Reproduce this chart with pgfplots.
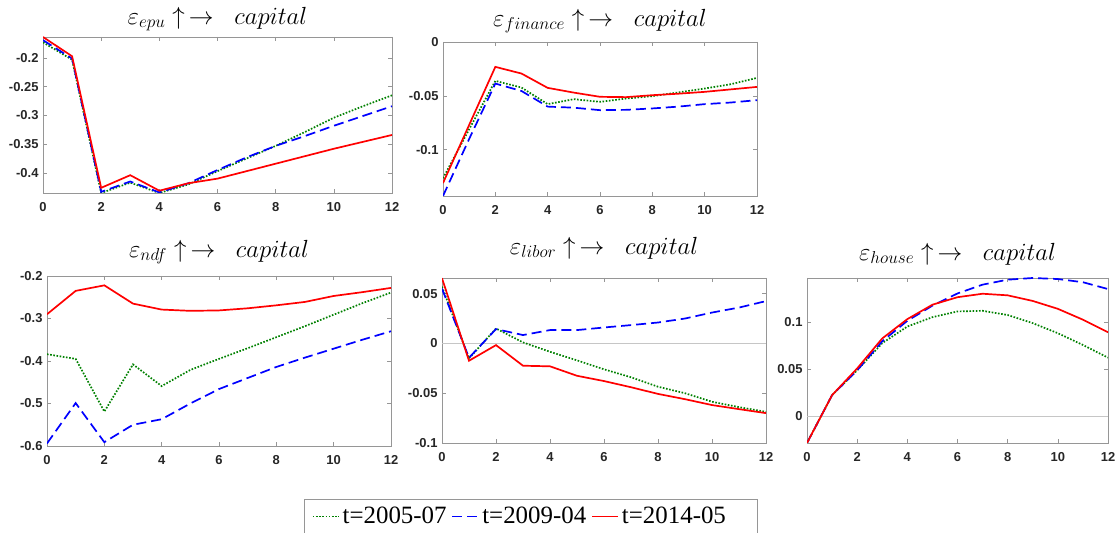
\documentclass[border=0pt]{standalone}
\usepackage{fontspec}
\setmainfont{Liberation Serif}
\setsansfont{Liberation Sans}
\usepackage{pgfplots}
\pgfplotsset{compat=1.18}

\definecolor{cgreen}{RGB}{0,128,0}
\definecolor{cblue}{RGB}{0,0,255}
\definecolor{cred}{RGB}{255,0,0}
\definecolor{caxis}{RGB}{150,150,150}

\pgfplotsset{
  panel/.style={
    scale only axis,
    anchor=south west,
    xmin=0, xmax=12,
    xtick={0,2,4,6,8,10,12},
    tick align=inside,
    major tick length=4bp,
    axis line style={caxis, line width=0.8bp},
    every tick/.style={caxis, line width=0.6bp},
    ticklabel style={font=\fontsize{13}{15}\selectfont\sffamily\bfseries, text=black!85},
    /pgf/number format/assume math mode=true,
    scaled y ticks=false,
    yticklabel style={/pgf/number format/fixed, /pgf/number format/precision=2},
    xticklabel style={yshift=-6bp},
    yticklabel style={xshift=-1bp},
    title style={font=\fontsize{23}{27}\selectfont, anchor=base, at={(0.5,1)}, inner sep=0.5bp},
    every axis plot/.append style={line width=1.7bp},
    clip=true,
  },
  sgreen/.style={cgreen, dash pattern=on 1.6bp off 1.6bp},
  sblue/.style={cblue, dash pattern=on 10bp off 5bp},
  sred/.style={cred, solid},
}

\begin{document}
\begin{tikzpicture}
\useasboundingbox (0bp,0bp) rectangle (1120bp,533bp);

% Panel 1: epu
\begin{axis}[panel, at={(43bp,340bp)}, width=349bp, height=156bp,
  ymin=-0.435, ymax=-0.1635,
  ytick={-0.4,-0.35,-0.3,-0.25,-0.2},
  title={$\varepsilon_{epu}\uparrow\,\rightarrow\;\; capital$},
  title style={yshift=7bp}]
\addplot[sgreen] coordinates {(0,-0.1728) (1,-0.203) (2,-0.435) (3,-0.417) (4,-0.435) (5,-0.420) (6,-0.397) (7,-0.375) (8,-0.353) (9,-0.329) (10,-0.304) (11,-0.284) (12,-0.265)};
\addplot[sblue] coordinates {(0,-0.169) (1,-0.201) (2,-0.433) (3,-0.415) (4,-0.434) (5,-0.418) (6,-0.395) (7,-0.373) (8,-0.353) (9,-0.336) (10,-0.318) (11,-0.301) (12,-0.284)};
\addplot[sred] coordinates {(0,-0.1635) (1,-0.197) (2,-0.426) (3,-0.404) (4,-0.431) (5,-0.418) (6,-0.410) (7,-0.397) (8,-0.384) (9,-0.371) (10,-0.358) (11,-0.346) (12,-0.334)};
\end{axis}

% Panel 2: finance
\begin{axis}[panel, at={(443bp,337bp)}, width=314bp, height=154bp,
  ymin=-0.143, ymax=0,
  ytick={-0.1,-0.05,0},
  title={$\varepsilon_{finance}\uparrow\,\rightarrow\;\; capital$},
  title style={yshift=10bp}]
\addplot[sgreen] coordinates {(0,-0.1265) (1,-0.081) (2,-0.0361) (3,-0.0423) (4,-0.0577) (5,-0.0531) (6,-0.0556) (7,-0.0525) (8,-0.0503) (9,-0.0468) (10,-0.0432) (11,-0.0392) (12,-0.0333)};
\addplot[sblue] coordinates {(0,-0.143) (1,-0.090) (2,-0.0386) (3,-0.0455) (4,-0.0600) (5,-0.0610) (6,-0.0633) (7,-0.0630) (8,-0.0617) (9,-0.0600) (10,-0.0577) (11,-0.0562) (12,-0.0540)};
\addplot[sred] coordinates {(0,-0.131) (1,-0.077) (2,-0.0231) (3,-0.0293) (4,-0.0426) (5,-0.0470) (6,-0.0509) (7,-0.0512) (8,-0.0494) (9,-0.0480) (10,-0.0463) (11,-0.0440) (12,-0.0417)};
\end{axis}

% Panel 3: ndf
\begin{axis}[panel, at={(47bp,87bp)}, width=344bp, height=170bp,
  ymin=-0.6, ymax=-0.2,
  ytick={-0.6,-0.5,-0.4,-0.3,-0.2},
  title={$\varepsilon_{ndf}\uparrow\,\rightarrow\;\; capital$},
  title style={yshift=13bp}]
\addplot[sgreen] coordinates {(0,-0.384) (1,-0.395) (2,-0.519) (3,-0.408) (4,-0.459) (5,-0.421) (6,-0.395) (7,-0.370) (8,-0.344) (9,-0.318) (10,-0.291) (11,-0.264) (12,-0.239)};
\addplot[sblue] coordinates {(0,-0.594) (1,-0.499) (2,-0.591) (3,-0.550) (4,-0.537) (5,-0.500) (6,-0.466) (7,-0.440) (8,-0.414) (9,-0.392) (10,-0.371) (11,-0.350) (12,-0.330)};
\addplot[sred] coordinates {(0,-0.290) (1,-0.235) (2,-0.222) (3,-0.265) (4,-0.279) (5,-0.282) (6,-0.281) (7,-0.276) (8,-0.269) (9,-0.261) (10,-0.247) (11,-0.238) (12,-0.228)};
\end{axis}

% Panel 4: libor
\begin{axis}[panel, at={(442bp,90bp)}, width=324bp, height=165bp,
  ymin=-0.1, ymax=0.0657,
  ytick={-0.1,-0.05,0,0.05},
  title={$\varepsilon_{libor}\uparrow\,\rightarrow\;\; capital$},
  title style={yshift=18bp},
  legend columns=3,
  legend style={at={(axis description cs:0.273,-0.339)}, anchor=north,
    draw=caxis, line width=0.8bp, fill=white,
    font=\fontsize{25}{28}\selectfont\rmfamily,
    inner xsep=8bp, inner ysep=6bp,
    /tikz/every odd column/.append style={column sep=1bp},
    /tikz/every even column/.append style={column sep=3bp},
    cells={anchor=west}},
  legend image code/.code={\draw[#1, line width=1.7bp] (0bp,0bp) -- (26bp,0bp);}]
\draw[gray!45, line width=0.8bp] (axis cs:0,0) -- (axis cs:12,0);
\addplot[sgreen] coordinates {(0,0.057) (1,-0.015) (2,0.015) (3,0.001) (4,-0.0084) (5,-0.017) (6,-0.026) (7,-0.034) (8,-0.0435) (9,-0.050) (10,-0.0586) (11,-0.064) (12,-0.0687)};
\addlegendentry{t=2005-07}
\addplot[sblue] coordinates {(0,0.055) (1,-0.0144) (2,0.0144) (3,0.0084) (4,0.0134) (5,0.0134) (6,0.016) (7,0.0184) (8,0.021) (9,0.025) (10,0.031) (11,0.036) (12,0.0425)};
\addlegendentry{t=2009-04}
\addplot[sred] coordinates {(0,0.0655) (1,-0.0174) (2,-0.0017) (3,-0.0224) (4,-0.023) (5,-0.0325) (6,-0.0378) (7,-0.044) (8,-0.0507) (9,-0.056) (10,-0.0619) (11,-0.066) (12,-0.070)};
\addlegendentry{\makebox[125bp][l]{t=2014-05}}
\end{axis}

% Panel 5: house
\begin{axis}[panel, at={(807bp,90bp)}, width=301bp, height=165bp,
  ymin=-0.0286, ymax=0.1475,
  ytick={0,0.05,0.1},
  title={$\varepsilon_{house}\uparrow\,\rightarrow\;\; capital$},
  title style={yshift=12bp}]
\draw[gray!45, line width=0.8bp] (axis cs:0,0) -- (axis cs:12,0);
\addplot[sgreen] coordinates {(0,-0.0286) (1,0.0225) (2,0.049) (3,0.078) (4,0.0957) (5,0.1057) (6,0.1118) (7,0.1125) (8,0.108) (9,0.0993) (10,0.0886) (11,0.076) (12,0.0625)};
\addplot[sblue] coordinates {(0,-0.0286) (1,0.0225) (2,0.049) (3,0.080) (4,0.1018) (5,0.118) (6,0.131) (7,0.1404) (8,0.1457) (9,0.1475) (10,0.1464) (11,0.143) (12,0.1357)};
\addplot[sred] coordinates {(0,-0.0286) (1,0.0225) (2,0.051) (3,0.083) (4,0.1036) (5,0.119) (6,0.127) (7,0.1307) (8,0.129) (9,0.123) (10,0.1146) (11,0.103) (12,0.0896)};
\end{axis}
\end{tikzpicture}
\end{document}
